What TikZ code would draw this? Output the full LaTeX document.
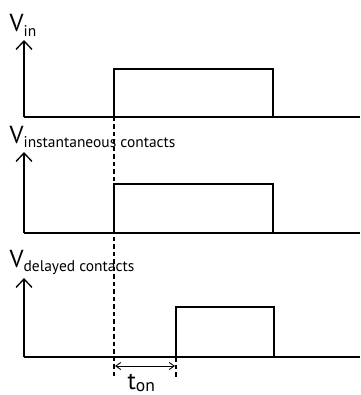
\documentclass[tikz,border=0pt]{standalone}
\usepackage{fontspec}
\setmainfont{PT Sans}
\usetikzlibrary{arrows.meta}

\newcommand{\sig}[1]{V\raisebox{-0.35ex}{\fontsize{8.8}{8.8}\selectfont #1}}

\begin{document}
\begin{tikzpicture}[x=0.02cm,y=-0.02cm,
  line width=0.75pt,
  axis/.style={-{Straight Barb[length=0.17cm,width=0.32cm]}},
  guide/.style={dashed,dash pattern=on 0.09cm off 0.06cm},
  span/.style={{Straight Barb[length=0.1cm,width=0.14cm]}-{Straight Barb[length=0.1cm,width=0.14cm]},line width=0.5pt},
  lbl/.style={anchor=base west,inner sep=0pt,font=\fontsize{14}{14}\selectfont}]
\useasboundingbox (0,0) rectangle (360,395);
% V_in
\node[lbl] (vin) at (9,32) {\sig{in}};
\draw[axis] (24,117) -- (24,40);
\draw (24,117) -- (360,117);
\draw (114,117) -- (114,69) -- (273,69) -- (273,117);
% instantaneous contacts
\node[lbl] (vinst) at (9,143) {\sig{instantaneous contacts}};
\draw[axis] (24,233) -- (24,152);
\draw (24,233) -- (360,233);
\draw (114,233) -- (114,184) -- (273,184) -- (273,233);
% delayed contacts
\node[lbl] (vdel) at (9,267) {\sig{delayed contacts}};
\draw[axis] (24,357) -- (24,278);
\draw (24,357) -- (360,357);
\draw (176,357) -- (176,307) -- (274,307) -- (274,357);
% delay
\draw[guide] (114,117) -- (114,378);
\draw[guide] (176,357) -- (176,378);
\coordinate (ta) at (115,366);
\coordinate (tb) at (175,366);
\draw[span] (ta) -- (tb);
\node[lbl] (ton) at (127,389) {t\raisebox{-0.2ex}{\fontsize{10}{10}\selectfont on}};
\end{tikzpicture}
\end{document}
